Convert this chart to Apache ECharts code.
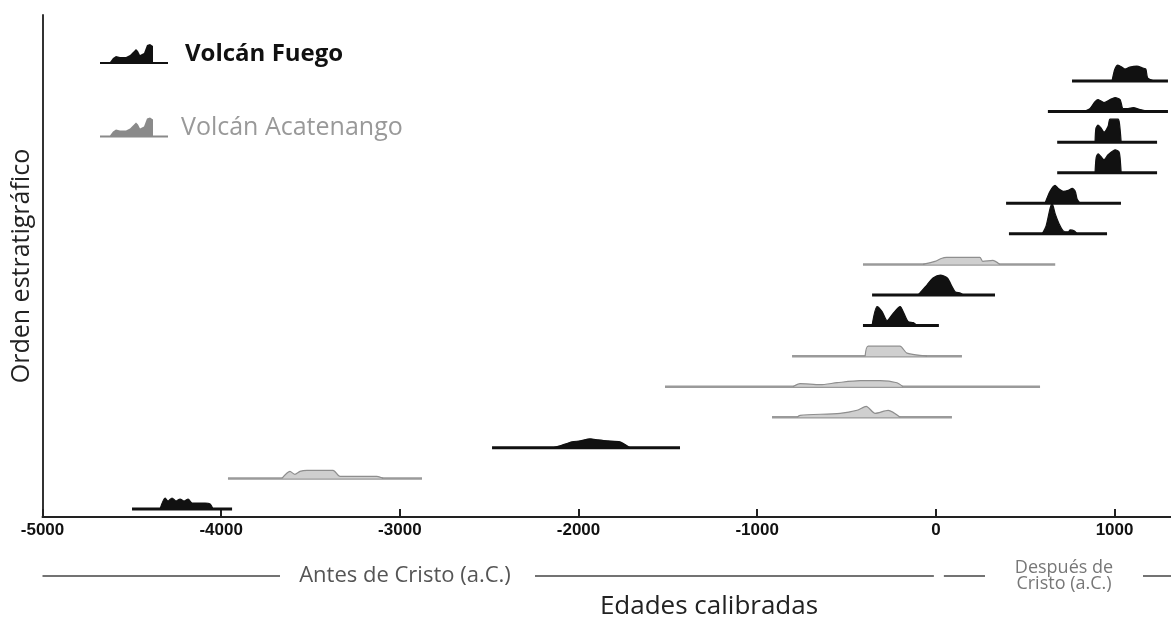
<!DOCTYPE html>
<html>
<head>
<meta charset="utf-8">
<script src="https://cdn.jsdelivr.net/npm/echarts@6/dist/echarts.min.js"></script>
<style>html,body{margin:0;padding:0;background:#fff}#c{width:1171px;height:622px}</style>
</head>
<body>
<div id="c"></div>
<script>
// ---- data (rows listed top to bottom in stratigraphic order) ----
const xTicks = [-5000, -4000, -3000, -2000, -1000, 0, 1000];
const rowVolcano = ['F','F','F','F','F','F','A','F','F','A','A','A','F','A','F'];
const rangeStart = [762, 627, 679, 679, 393, 409, -408, -357, -408, -805, -1516, -917, -2484, -3962, -4499];
const rangeEnd   = [1299, 1299, 1238, 1238, 1036, 958, 668, 331, 17, 146, 583, 90, -1432, -2876, -3939];
// probability curves: [calendar year, relative probability]
const dens15 = [[986,0],[1002,12],[1019,16],[1040,14],[1058,12],[1086,14],[1125,15],[1158,13],[1175,12],[1186,3],[1226,0]];
const dens14 = [[823,0],[862,3],[891,10],[908,12],[941,9],[975,12],[1003,14],[1031,12],[1048,3],[1076,3],[1104,4],[1143,2],[1193,0]];
const dens13 = [[891,0],[896,14],[908,17],[925,14],[941,10],[964,16],[975,23],[1020,23],[1028,18],[1037,0]];
const dens12 = [[891,0],[897,15],[908,19],[925,16],[941,13],[964,18],[1004,23],[1025,21],[1031,15],[1037,0]];
const dens11 = [[611,0],[639,12],[667,18],[684,15],[713,12],[741,13],[763,15],[780,12],[791,4],[808,0]];
const dens10 = [[595,0],[617,8],[640,26],[651,30],[668,20],[690,10],[713,3],[741,2],[752,4],[774,3],[791,0]];
const dens9  = [[-72,0],[-5,3],[30,6],[61,7],[246,7],[263,3],[318,4],[358,0]];
const dens8  = [[-100,0],[-89,2],[-50,10],[-16,17],[25,20],[64,17],[92,8],[109,3],[137,2],[154,0]];
const dens7  = [[-357,0],[-329,19],[-301,14],[-273,5],[-240,12],[-200,19],[-178,12],[-155,4],[-127,3],[-105,0]];
const dens6  = [[-396,0],[-379,10],[-201,10],[-162,3],[-50,0]];
const dens5  = [[-800,0],[-760,3],[-648,2],[-553,4],[-424,6],[-312,6],[-218,4],[-184,0]];
const dens4  = [[-777,0],[-760,2],[-536,4],[-441,7],[-390,11],[-340,4],[-267,7],[-200,0]];
const dens3  = [[-2143,0],[-2104,2],[-2036,6],[-1991,7],[-1936,9],[-1891,8],[-1840,7],[-1768,6],[-1712,0]];
const dens2  = [[-3660,0],[-3615,7],[-3587,4],[-3559,7],[-3520,8],[-3374,8],[-3335,2],[-3240,2],[-3128,2],[-3094,0]];
const dens1  = [[-4342,0],[-4314,11],[-4297,8],[-4275,11],[-4253,8],[-4230,10],[-4208,8],[-4185,10],[-4163,6],[-4146,6],[-4090,6],[-4062,5],[-4046,0]];
const densities = [dens15, dens14, dens13, dens12, dens11, dens10, dens9, dens8, dens7, dens6, dens5, dens4, dens3, dens2, dens1];

// ---- styling ----
const NAME = {F: 'Volcán Fuego', A: 'Volcán Acatenango'};
const LINE = {F: '#111', A: '#9a9a9a'};
const FILL = {F: '#111', A: '#cfcfcf'};
const EDGE = {F: '#111', A: '#8e8e8e'};
const PROB_SCALE = 30.6; // probability units per row step

const series = [];
const nRows = rowVolcano.length;
rowVolcano.forEach((v, i) => {
  const row = nRows - i;
  series.push({
    type: 'line', name: NAME[v], silent: true, symbol: 'none', z: 2,
    lineStyle: {color: LINE[v], width: v === 'F' ? 3 : 2.5},
    data: [[rangeStart[i], row], [rangeEnd[i], row]]
  });
  series.push({
    type: 'line', name: NAME[v], silent: true, symbol: 'none', z: 3, smooth: 0.25,
    lineStyle: {color: EDGE[v], width: 1.2},
    itemStyle: {color: FILL[v]},
    areaStyle: {color: FILL[v], opacity: 1, origin: row},
    data: densities[i].map(p => [p[0], row + p[1] / PROB_SCALE])
  });
});

const iconPath = 'path://M0,19L10,19L13,15L16,13L20,14L26,14L30,12L33,9L36,6L38,8L40,12L44,10L47,2L50,1L53,3L53,19L68,19L68,21L0,21Z';

const chart = echarts.init(document.getElementById('c'));
const option = {
  animation: false,
  grid: {left: 42.5, right: 0, top: 15, bottom: 105},
  xAxis: {
    type: 'value', min: -5000, max: 1316,
    axisLine: {show: true, onZero: false, lineStyle: {color: '#222', width: 2}},
    axisTick: {show: true, inside: true, length: 8, lineStyle: {color: '#222', width: 2}, customValues: xTicks},
    axisLabel: {customValues: xTicks, formatter: v => String(v), color: '#111', fontFamily: 'Liberation Sans', fontWeight: 'bold', fontSize: 17, margin: 5},
    splitLine: {show: false}
  },
  yAxis: {
    type: 'value', min: 0.738, max: 17.16,
    axisLine: {show: true, onZero: false, lineStyle: {color: '#333', width: 2}},
    axisTick: {show: false}, axisLabel: {show: false}, splitLine: {show: false},
    name: 'Orden estratigráfico', nameLocation: 'middle', nameRotate: 90, nameGap: 8,
    nameTextStyle: {fontFamily: 'Open Sans', fontSize: 25, color: '#222'}
  },
  legend: {
    orient: 'vertical', left: 95, top: 37, itemGap: 49, itemWidth: 68, itemHeight: 21,
    selectedMode: false,
    data: [
      {name: NAME.F, icon: iconPath, itemStyle: {color: '#111'}, textStyle: {color: '#111', fontWeight: 'bold', fontSize: 24, fontFamily: 'Open Sans', padding: [0, 0, 0, 12]}},
      {name: NAME.A, icon: iconPath, itemStyle: {color: '#8a8a8a'}, textStyle: {color: '#999', fontSize: 25, fontFamily: 'Open Sans', padding: [0, 0, 0, 8]}}
    ]
  },
  series: series
};
chart.setOption(option);

// era annotations below the axis, positioned from the axis scale
const px = v => chart.convertToPixel({xAxisIndex: 0}, v);
const x0 = px(-5000), xZero = px(0), xEnd = 1171;
const yEra = 576;
const lineStyle = {stroke: '#444', lineWidth: 1.5};
chart.setOption({
  graphic: [
    {type: 'line', shape: {x1: x0, y1: yEra, x2: 280, y2: yEra}, style: lineStyle, silent: true},
    {type: 'text', x: 405, y: yEra, style: {text: 'Antes de Cristo (a.C.)', fill: '#555', font: '22px "Open Sans"', align: 'center', verticalAlign: 'middle'}},
    {type: 'line', shape: {x1: 535, y1: yEra, x2: xZero - 2, y2: yEra}, style: lineStyle, silent: true},
    {type: 'line', shape: {x1: xZero + 8, y1: yEra, x2: 985, y2: yEra}, style: lineStyle, silent: true},
    {type: 'text', x: 1064, y: yEra, style: {text: 'Después de\nCristo (a.C.)', fill: '#777', font: '18px "Open Sans"', lineHeight: 16, align: 'center', verticalAlign: 'middle'}},
    {type: 'line', shape: {x1: 1143, y1: yEra, x2: xEnd, y2: yEra}, style: lineStyle, silent: true},
    {type: 'text', x: 709, y: 607, style: {text: 'Edades calibradas', fill: '#222', font: '26px "Open Sans"', align: 'center', verticalAlign: 'middle'}}
  ]
});
</script>
</body>
</html>
